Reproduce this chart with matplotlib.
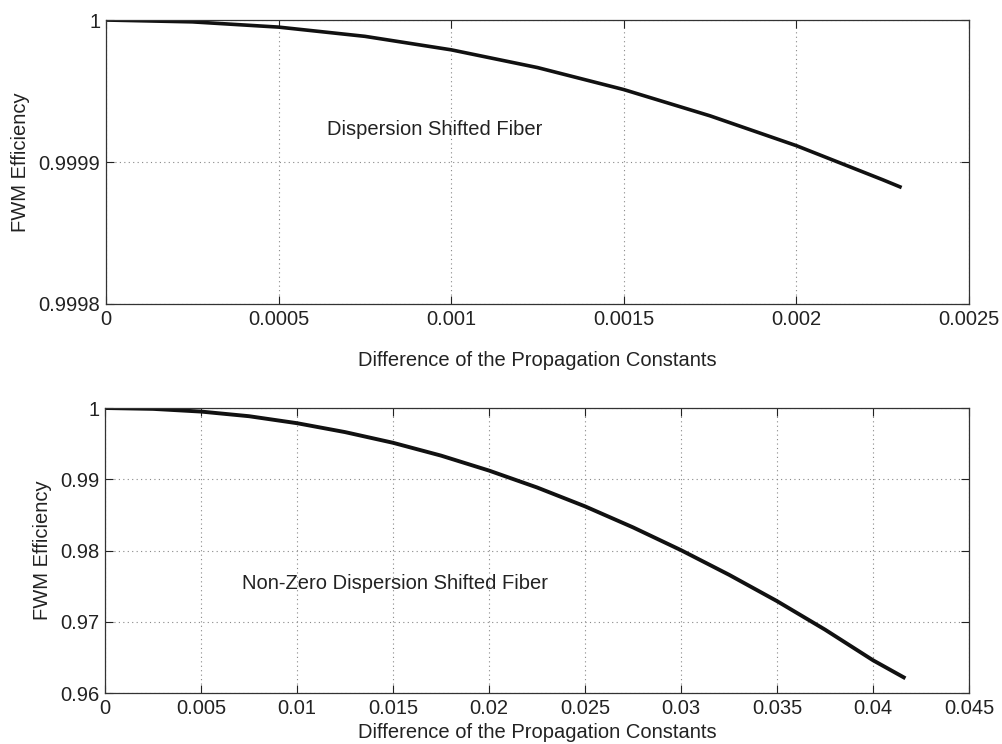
import matplotlib
matplotlib.use("Agg")
import matplotlib.pyplot as plt
from matplotlib.ticker import FixedLocator, FixedFormatter

plt.rcParams['font.family'] = ['Liberation Sans', 'DejaVu Sans']

# Top panel: Dispersion Shifted Fiber
dsf_x = [0.0, 0.00025, 0.0005, 0.00075, 0.001, 0.00125, 0.0015, 0.00175, 0.002, 0.00225, 0.0023]
dsf_y = [1.0, 0.9999987, 0.999995, 0.9999885, 0.999979, 0.9999665, 0.999951, 0.9999325,
         0.9999115, 0.9998875, 0.9998825]

# Bottom panel: Non-Zero Dispersion Shifted Fiber
nz_x = [0.0, 0.0025, 0.005, 0.0075, 0.01, 0.0125, 0.015, 0.0175, 0.02, 0.0225,
        0.025, 0.0275, 0.03, 0.0325, 0.035, 0.0375, 0.04, 0.0416]
nz_y = [1.0, 0.99988, 0.9995, 0.99885, 0.99787, 0.99662, 0.99512, 0.99332, 0.99122, 0.98885,
        0.9862, 0.98325, 0.98005, 0.9766, 0.9729, 0.9689, 0.9646, 0.9622]

top_xticks = [0, 0.0005, 0.001, 0.0015, 0.002, 0.0025]
top_xlabels = ['0', '0.0005', '0.001', '0.0015', '0.002', '0.0025']
top_yticks = [0.9998, 0.9999, 1.0]
top_ylabels = ['0.9998', '0.9999', '1']

bot_xticks = [0, 0.005, 0.01, 0.015, 0.02, 0.025, 0.03, 0.035, 0.04, 0.045]
bot_xlabels = ['0', '0.005', '0.01', '0.015', '0.02', '0.025', '0.03', '0.035', '0.04', '0.045']
bot_yticks = [0.96, 0.97, 0.98, 0.99, 1.0]
bot_ylabels = ['0.96', '0.97', '0.98', '0.99', '1']

xlabel = 'Difference of the Propagation Constants'
ylabel = 'FWM Efficiency'

FS = 14.5

fig = plt.figure(figsize=(10.03, 7.44), dpi=100)
ax1 = fig.add_axes([0.1057, 0.5914, 0.9661 - 0.1057, 0.9731 - 0.5914])
ax2 = fig.add_axes([0.1047, 0.0685, 0.9661 - 0.1047, 0.4516 - 0.0685])


def style(ax, xt, xl, yt, yl, xlim, ylim):
    ax.set_xlim(*xlim)
    ax.set_ylim(*ylim)
    ax.xaxis.set_major_locator(FixedLocator(xt))
    ax.xaxis.set_major_formatter(FixedFormatter(xl))
    ax.yaxis.set_major_locator(FixedLocator(yt))
    ax.yaxis.set_major_formatter(FixedFormatter(yl))
    ax.tick_params(direction='in', length=6, width=0.8, top=True, right=True,
                   labelsize=FS, colors='#222222', pad=4)
    ax.grid(True, linestyle=(0, (1, 3)), color='#888888', linewidth=0.8)
    for s in ax.spines.values():
        s.set_color('#333333')
        s.set_linewidth(0.9)


ax1.plot(dsf_x, dsf_y, color='#111111', linewidth=2.6)
style(ax1, top_xticks, top_xlabels, top_yticks, top_ylabels, (0, 0.0025), (0.9998, 1.0))
ax1.set_xlabel(xlabel, fontsize=FS, color='#222222', labelpad=16)
ax1.set_ylabel(ylabel, fontsize=FS, color='#222222', labelpad=6)
ax1.text(0.00064, 0.999923, 'Dispersion Shifted Fiber', fontsize=FS, color='#222222',
         va='center', ha='left')

ax2.plot(nz_x, nz_y, color='#111111', linewidth=2.8)
style(ax2, bot_xticks, bot_xlabels, bot_yticks, bot_ylabels, (0, 0.045), (0.96, 1.0))
ax2.set_xlabel(xlabel, fontsize=FS, color='#222222', labelpad=4)
ax2.set_ylabel(ylabel, fontsize=FS, color='#222222', labelpad=6)
ax2.text(0.00714, 0.9754, 'Non-Zero Dispersion Shifted Fiber', fontsize=FS, color='#222222',
         va='center', ha='left')

fig.savefig('out.png', dpi=100)
